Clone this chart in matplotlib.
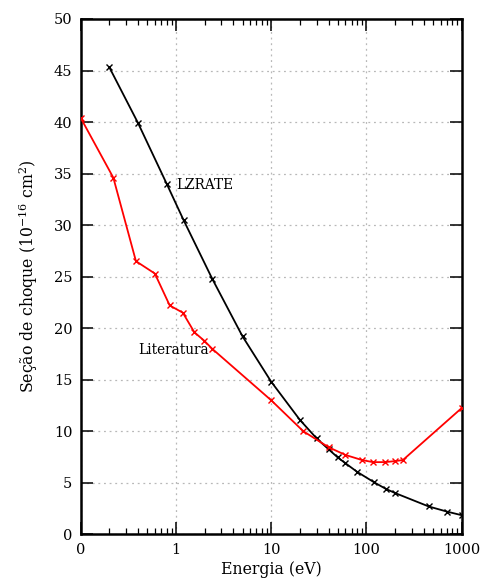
import matplotlib
matplotlib.use('Agg')
import matplotlib.pyplot as plt
from matplotlib.ticker import FixedLocator, FixedFormatter, LogLocator, NullFormatter

plt.rcParams['font.family'] = ['DejaVu Serif']
plt.rcParams['mathtext.fontset'] = 'dejavuserif'

# LZRATE (curva calculada)
lz_energia = [0.2, 0.4, 0.8, 1.2, 2.4, 5, 10, 20, 30, 40, 50, 60, 80, 120, 160, 200, 450, 700, 1000]
lz_secao = [45.3, 39.9, 34.0, 30.5, 24.8, 19.2, 14.8, 11.1, 9.3, 8.25, 7.45, 6.9, 6.05,
            5.05, 4.4, 4.0, 2.7, 2.2, 1.85]

# Literatura
lit_energia = [0.1, 0.22, 0.38, 0.6, 0.86, 1.18, 1.56, 1.97, 2.4, 10, 21.7, 40, 60, 90,
               117, 156, 200, 241, 1000]
lit_secao = [40.4, 34.6, 26.5, 25.3, 22.2, 21.5, 19.6, 18.8, 18.0, 13.0, 10.0, 8.45,
             7.7, 7.2, 7.0, 7.0, 7.1, 7.2, 12.25]

xticks = [0.1, 1, 10, 100, 1000]
xtick_labels = ['0', '1', '10', '100', '1000']
yticks = list(range(0, 51, 5))

fig = plt.figure(figsize=(4.81, 5.82), dpi=100)
ax = fig.add_axes([0.1678, 0.082, 0.7921, 0.8854])

ax.plot(lz_energia, lz_secao, color='black', lw=1.3, marker='x', ms=4.5, mew=1.0, zorder=3)
ax.plot(lit_energia, lit_secao, color='#ff0000', lw=1.3, marker='x', ms=4.5, mew=1.0, zorder=3)

ax.set_xscale('log')
ax.set_xlim(0.1, 1000)
ax.set_ylim(0, 50)

ax.xaxis.set_major_locator(FixedLocator(xticks))
ax.xaxis.set_major_formatter(FixedFormatter(xtick_labels))
ax.xaxis.set_minor_locator(LogLocator(base=10, subs=range(2, 10)))
ax.xaxis.set_minor_formatter(NullFormatter())
ax.set_yticks(yticks)

ax.tick_params(which='major', direction='in', length=8.5, width=1.1, labelsize=10.5,
               top=True, right=True, pad=6)
ax.tick_params(which='minor', direction='in', length=4.5, width=0.9, top=True)
ax.tick_params(axis='y', which='minor', left=False, right=False)

ax.grid(True, which='major', color='#b8b8b8', linestyle=(0, (1.5, 3)), lw=0.9)
for s in ax.spines.values():
    s.set_linewidth(1.8)

ax.text(1.0, 33.9, 'LZRATE', fontsize=9.8, va='center', ha='left')
ax.text(2.2, 17.9, 'Literatura', fontsize=9.8, va='center', ha='right')

ax.set_xlabel('Energia (eV)', fontsize=11.3, labelpad=3)
ax.set_ylabel(r'Seção de choque (10$^{-16}$ cm$^{2}$)', fontsize=11.3, labelpad=10)

fig.savefig('out.png', dpi=100)
